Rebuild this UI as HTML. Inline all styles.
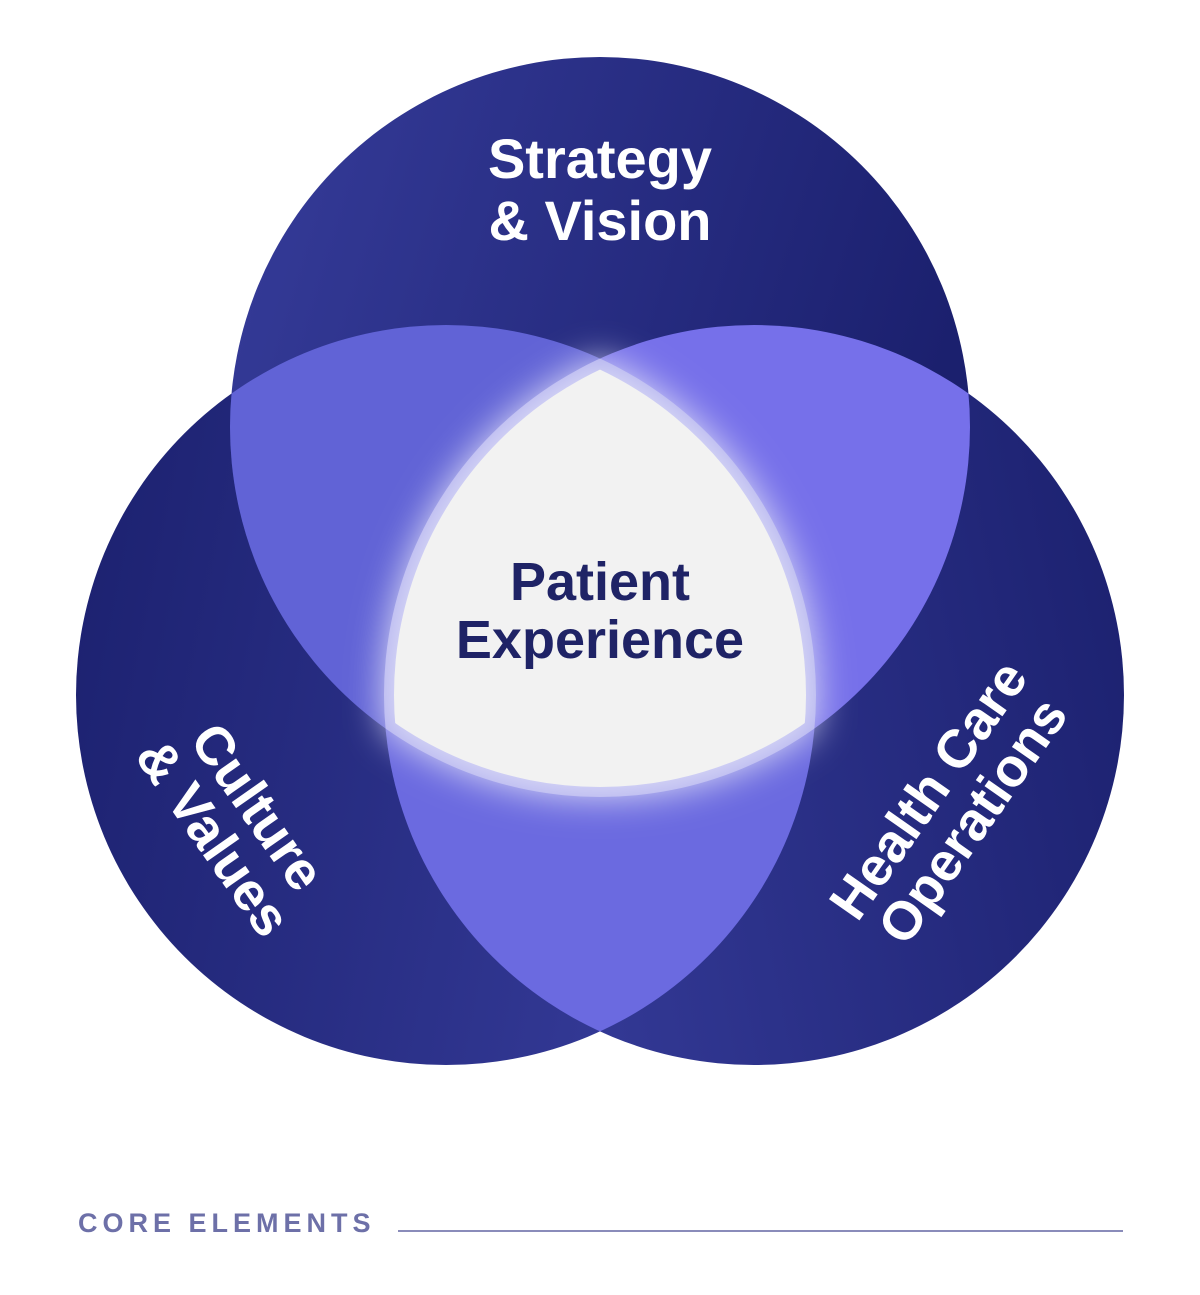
<!DOCTYPE html>
<html><head><meta charset="utf-8"><style>
html,body{margin:0;padding:0;background:#fff;width:1200px;height:1295px;overflow:hidden}
svg{display:block}
</style></head><body>
<svg width="1200" height="1295" viewBox="0 0 1200 1295" xmlns="http://www.w3.org/2000/svg">
<defs>
<linearGradient id="gt" x1="0" y1="0" x2="1" y2="0.3"><stop offset="0" stop-color="#363c9a"/><stop offset="1" stop-color="#1b206e"/></linearGradient>
<linearGradient id="gl" x1="0" y1="0" x2="1" y2="0.2"><stop offset="0" stop-color="#1b206e"/><stop offset="1" stop-color="#363c9a"/></linearGradient>
<linearGradient id="gr" x1="1" y1="0" x2="0" y2="0.2"><stop offset="0" stop-color="#1b206e"/><stop offset="1" stop-color="#363c9a"/></linearGradient>
<clipPath id="ct"><circle cx="600" cy="427" r="370"/></clipPath>
<clipPath id="cl"><circle cx="446" cy="695" r="370"/></clipPath>
<clipPath id="cr"><circle cx="754" cy="695" r="370"/></clipPath>
<clipPath id="ct2"><circle cx="600" cy="427" r="360"/></clipPath>
<clipPath id="cl2"><circle cx="446" cy="695" r="360"/></clipPath>
<clipPath id="cr2"><circle cx="754" cy="695" r="360"/></clipPath>
<filter id="bl" x="-20%" y="-20%" width="140%" height="140%"><feGaussianBlur stdDeviation="18"/></filter>
</defs>
<circle cx="446" cy="695" r="370" fill="url(#gl)"/>
<circle cx="754" cy="695" r="370" fill="url(#gr)"/>
<circle cx="600" cy="427" r="370" fill="url(#gt)"/>
<g clip-path="url(#ct)"><circle cx="446" cy="695" r="370" fill="#6163d6"/></g>
<g clip-path="url(#ct)"><circle cx="754" cy="695" r="370" fill="#7670ea"/></g>
<g clip-path="url(#cl)"><circle cx="754" cy="695" r="370" fill="#6b6ae0"/></g>
<g clip-path="url(#ct)"><g clip-path="url(#cl)"><g clip-path="url(#cr)">
<rect x="0" y="0" width="1200" height="1295" fill="#a9a8ee"/>
</g></g></g>
<g filter="url(#bl)"><g clip-path="url(#ct)"><g clip-path="url(#cl)"><g clip-path="url(#cr)">
<rect x="0" y="0" width="1200" height="1295" fill="#dcdcf6"/>
</g></g></g></g>
<g clip-path="url(#ct2)"><g clip-path="url(#cl2)"><g clip-path="url(#cr2)">
<rect x="0" y="0" width="1200" height="1295" fill="#f2f2f2"/>
</g></g></g>
<g font-family="Liberation Sans, sans-serif" font-weight="bold" fill="#fff" text-anchor="middle">
<text x="600" y="178" font-size="56">Strategy</text>
<text x="600" y="240" font-size="56">&amp; Vision</text>
<text x="600" y="600" font-size="54" fill="#1f2366">Patient</text>
<text x="600" y="658" font-size="54" fill="#1f2366">Experience</text>
<g transform="translate(236,822) rotate(55)">
<text x="0" y="-8" font-size="54">Culture</text>
<text x="0" y="46" font-size="54">&amp; Values</text>
</g>
<g transform="translate(950,805) rotate(-55)">
<text x="0" y="-8" font-size="54">Health Care</text>
<text x="0" y="46" font-size="54">Operations</text>
</g>
</g>
<text x="78" y="1232" font-family="Liberation Sans, sans-serif" font-weight="bold" font-size="27" letter-spacing="5" fill="#6d70a8">CORE ELEMENTS</text>
<line x1="398" y1="1231" x2="1123" y2="1231" stroke="#8a8cba" stroke-width="2"/>
</svg>
</body></html>
